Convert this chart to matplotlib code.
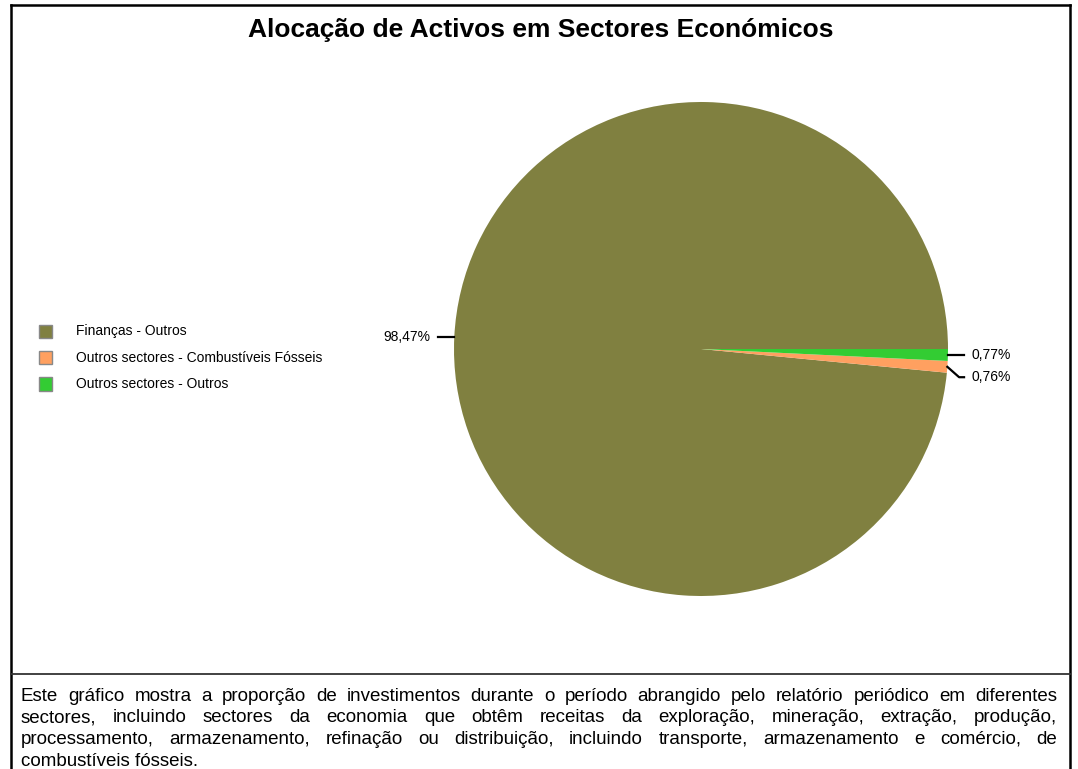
import numpy as np
import matplotlib.pyplot as plt
from matplotlib.patches import Rectangle
from matplotlib.lines import Line2D

plt.rcParams['font.family'] = ['Liberation Sans', 'DejaVu Sans']

# data
sectors = ['Finanças - Outros',
           'Outros sectores - Combustíveis Fósseis',
           'Outros sectores - Outros']
shares = [98.47, 0.76, 0.77]
colors = ['#808040', '#FFA060', '#33CC33']

title = 'Alocação de Activos em Sectores Económicos'
footer_lines = [
    'Este gráfico mostra a proporção de investimentos durante o período abrangido pelo relatório periódico em diferentes',
    'sectores, incluindo sectores da economia que obtêm receitas da exploração, mineração, extração, produção,',
    'processamento, armazenamento, refinação ou distribuição, incluindo transporte, armazenamento e comércio, de',
    'combustíveis fósseis.',
]

W, H = 1078, 769
fig = plt.figure(figsize=(W / 100, H / 100), dpi=100)


def fx(px):
    return px / W


def fy(py):
    return 1 - py / H


# frame
fig.add_artist(Line2D([fx(11), fx(11)], [fy(5), 0], color='black', lw=1.8))
fig.add_artist(Line2D([fx(1070), fx(1070)], [fy(5), 0], color='black', lw=1.8))
fig.add_artist(Line2D([fx(11), fx(1070)], [fy(5), fy(5)], color='black', lw=1.8))
fig.add_artist(Line2D([fx(11), fx(1070)], [fy(674), fy(674)], color='#333333', lw=1.3))

fig.text(fx(541), fy(30), title, ha='center', va='center',
         fontsize=19, fontweight='bold')

# pie
cx, cy, r = 701, 349, 247
ax = fig.add_axes([fx(cx - r), fy(cy + r), (2 * r) / W, (2 * r) / H])
wedges, _ = ax.pie(shares, colors=colors, startangle=0, counterclock=True,
                   radius=1, wedgeprops=dict(linewidth=0))
ax.set_xlim(-1, 1)
ax.set_ylim(-1, 1)
ax.axis('off')

# labels with leader lines, pushed apart top-down on each side
items = []
for w, v in zip(wedges, shares):
    ang = np.deg2rad((w.theta1 + w.theta2) / 2)
    items.append((np.cos(ang), np.sin(ang), v))
items.sort(key=lambda t: -t[1])
last = {}
for ex, ey, v in items:
    side = 1 if ex >= 0 else -1
    ly = ey
    if side in last and last[side] - ly < 0.09:
        ly = last[side] - 0.09
    last[side] = ly
    lx = side * 1.065
    ax.plot([ex, lx - side * 0.02, lx], [ey, ly, ly], color='black', lw=1.6,
            clip_on=False)
    ax.text(lx + side * 0.03, ly, f'{v:.2f}%'.replace('.', ','),
            ha='left' if side > 0 else 'right', va='center', fontsize=10)

# legend
for i, (name, c) in enumerate(zip(sectors, colors)):
    y = 331 + i * 26.5
    fig.add_artist(Rectangle((fx(39), fy(y + 6.5)), 13 / W, 13 / H,
                             facecolor=c, edgecolor='#888888', lw=1))
    fig.text(fx(76), fy(y), name, ha='left', va='center', fontsize=10)

# justified footer text
fig.canvas.draw()
renderer = fig.canvas.get_renderer()
left, right = 21, 1057
fs = 13.5
for i, line in enumerate(footer_lines):
    y = fy(701 + i * 21.5)
    words = line.split(' ')
    if i == len(footer_lines) - 1:
        fig.text(fx(left), y, line, ha='left', va='baseline', fontsize=fs)
        continue
    arts = [fig.text(0, y, wd, ha='left', va='baseline', fontsize=fs) for wd in words]
    widths = [a.get_window_extent(renderer).width for a in arts]
    gap = (right - left - sum(widths)) / (len(words) - 1)
    x = left
    for a, wdt in zip(arts, widths):
        a.set_x(fx(x))
        x += wdt + gap

fig.savefig('out.png', dpi=100)
